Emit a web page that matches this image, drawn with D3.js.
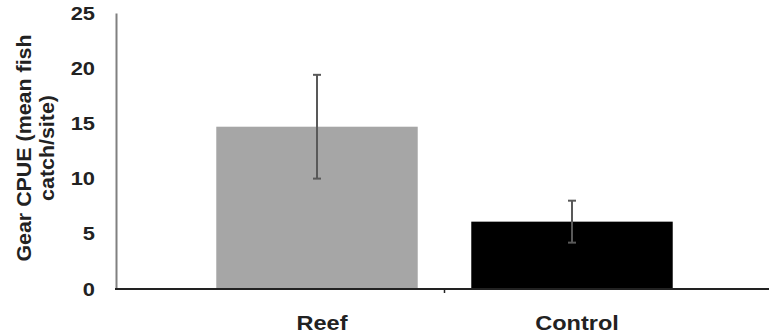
<!DOCTYPE html>
<html><head><meta charset="utf-8">
<script src="https://cdn.jsdelivr.net/npm/d3@7"></script>
<style>body{margin:0;background:#fff}svg{display:block}</style>
</head><body>
<script>
const categories = ["Reef", "Control"];
const means = [14.7, 6.1];
const errors = [4.7, 1.9];
const yTicks = [0, 5, 10, 15, 20, 25];
const colors = ["#a6a6a6", "#000000"];

const W = 769, H = 335;
const svg = d3.select("body").append("svg").attr("width", W).attr("height", H);
const font = "Arial, 'Liberation Sans', sans-serif";
function stretch(sel, f) {
  sel.each(function () {
    const L = this.getComputedTextLength();
    d3.select(this).attr("textLength", L * f).attr("lengthAdjust", "spacingAndGlyphs");
  });
}

const y = d3.scaleLinear().domain([0, 25]).range([289, 13]);
const x = d3.scaleBand().domain(categories).range([189.5, 699.5]).paddingInner(0.21).paddingOuter(0.105);

// bars
svg.selectAll("rect.bar").data(categories).enter().append("rect")
  .attr("x", d => x(d)).attr("width", x.bandwidth())
  .attr("y", (d, i) => y(means[i])).attr("height", (d, i) => y(0) - y(means[i]))
  .attr("fill", (d, i) => colors[i]);

// error bars
const eg = svg.selectAll("g.err").data(categories).enter().append("g")
  .attr("stroke", "#595959").attr("stroke-width", 2);
eg.append("line")
  .attr("x1", d => x(d) + x.bandwidth() / 2).attr("x2", d => x(d) + x.bandwidth() / 2)
  .attr("y1", (d, i) => y(means[i] + errors[i])).attr("y2", (d, i) => y(means[i] - errors[i]));
[1, -1].forEach(s => {
  eg.append("line")
    .attr("x1", d => x(d) + x.bandwidth() / 2 - 4).attr("x2", d => x(d) + x.bandwidth() / 2 + 4)
    .attr("y1", (d, i) => y(means[i] + s * errors[i])).attr("y2", (d, i) => y(means[i] + s * errors[i]));
});

// y axis
const yAxis = svg.append("g").attr("transform", "translate(116,0)")
  .call(d3.axisLeft(y).tickValues(yTicks).tickSize(0).tickPadding(21));
yAxis.select(".domain").attr("stroke", "#808080").attr("stroke-width", 2);
yAxis.selectAll("text").attr("font-family", font).attr("font-size", 19).attr("font-weight", "bold").attr("fill", "#222")
  .call(stretch, 1.15);

// x axis line
svg.append("line").attr("x1", 115).attr("x2", 769).attr("y1", y(0)).attr("y2", y(0))
  .attr("stroke", "#222").attr("stroke-width", 2);
// category boundary tick
const boundary = (x("Reef") + x.bandwidth() + x("Control")) / 2;
svg.append("line").attr("x1", boundary).attr("x2", boundary).attr("y1", y(0)).attr("y2", y(0) + 4)
  .attr("stroke", "#222").attr("stroke-width", 1.5);

// category labels
svg.selectAll("text.cat").data(categories).enter().append("text")
  .attr("x", d => x(d) + x.bandwidth() / 2 + 5).attr("y", 330)
  .attr("text-anchor", "middle").attr("font-family", font).attr("font-size", 21)
  .attr("font-weight", "bold").attr("fill", "#222").text(d => d)
  .call(stretch, 1.12);

// y label
const yl = svg.append("text").attr("transform", "translate(0,148) rotate(-90)")
  .attr("text-anchor", "middle").attr("font-family", font).attr("font-size", 20)
  .attr("font-weight", "bold").attr("fill", "#222");
yl.append("tspan").attr("x", 0).attr("y", 31).text("Gear CPUE (mean fish");
yl.append("tspan").attr("x", 0).attr("y", 54).text("catch/site)");
stretch(yl.selectAll("tspan"), 1.07);
</script>
</body></html>
